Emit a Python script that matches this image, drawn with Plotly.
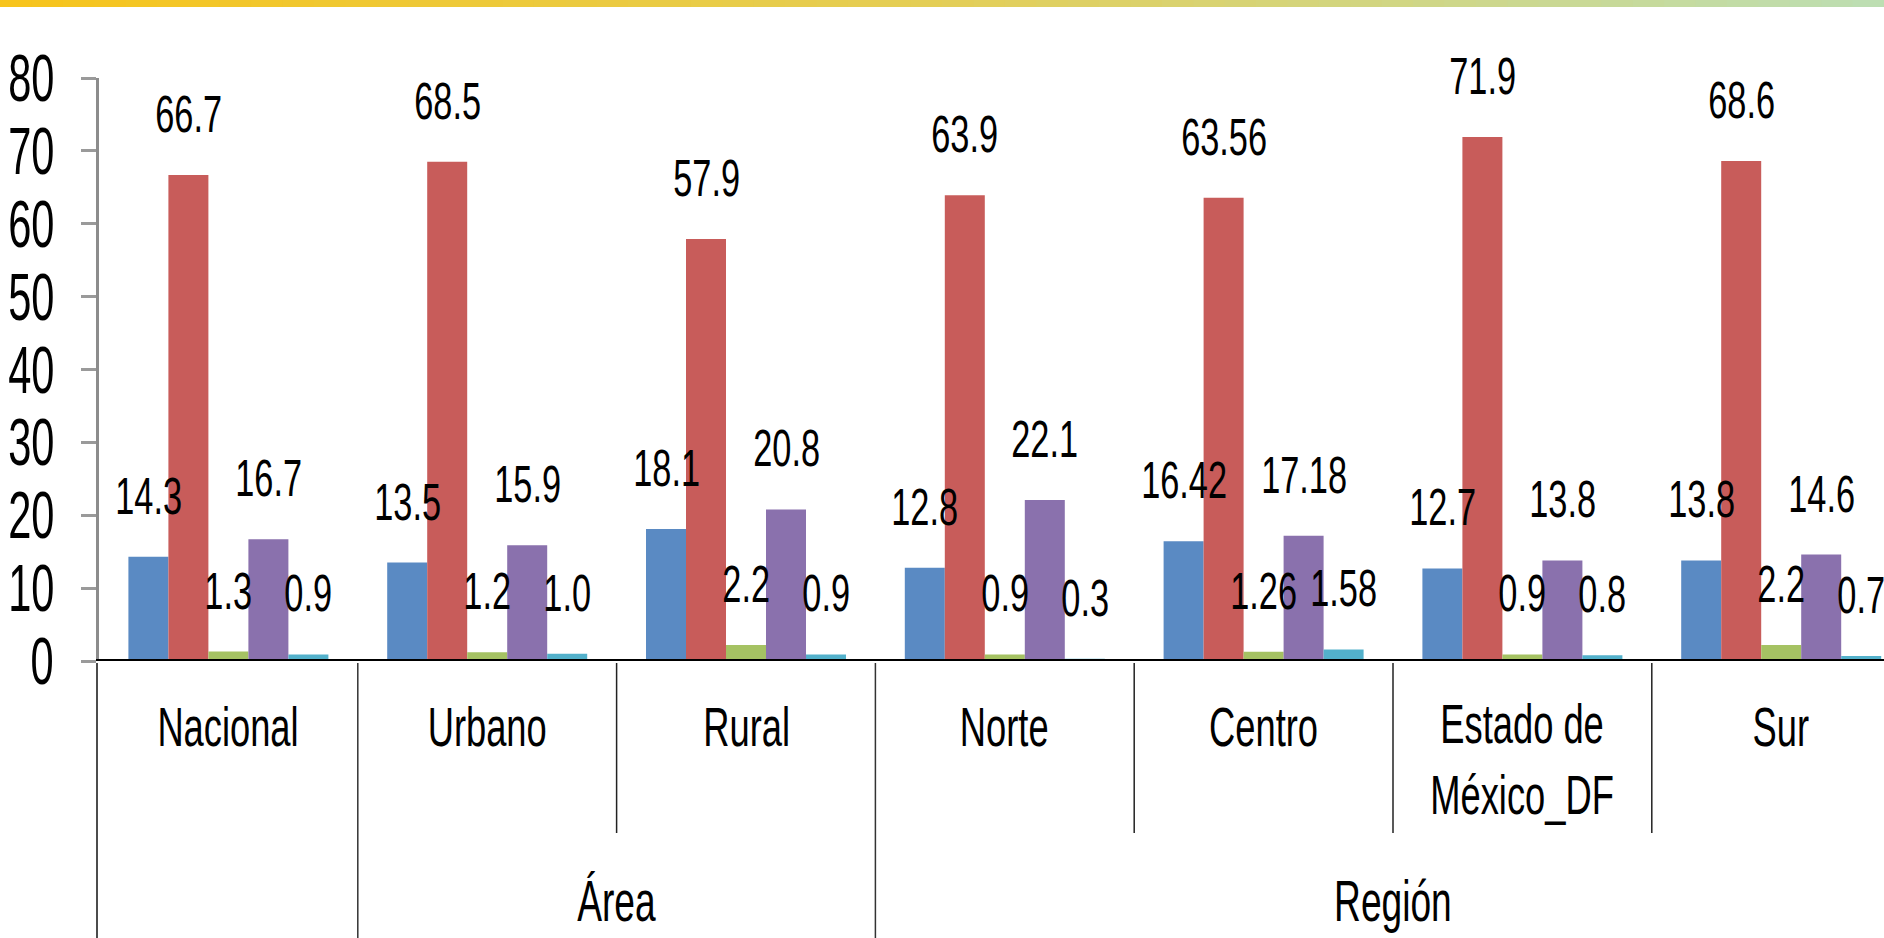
import plotly.graph_objects as go

# ---------------- data ----------------
categories = ["Nacional", "Urbano", "Rural", "Norte", "Centro", "Estado de México_DF", "Sur"]
category_labels = ["Nacional", "Urbano", "Rural", "Norte", "Centro", "Estado de<br>México_DF", "Sur"]
groups = [("Área", 1.5), ("Región", 4.5)]

serie_1 = [14.3, 13.5, 18.1, 12.8, 16.42, 12.7, 13.8]
serie_2 = [66.7, 68.5, 57.9, 63.9, 63.56, 71.9, 68.6]
serie_3 = [1.3, 1.2, 2.2, 0.9, 1.26, 0.9, 2.2]
serie_4 = [16.7, 15.9, 20.8, 22.1, 17.18, 13.8, 14.6]
serie_5 = [0.9, 1.0, 0.9, 0.3, 1.58, 0.8, 0.7]

series = [serie_1, serie_2, serie_3, serie_4, serie_5]
series_names = ["Serie 1", "Serie 2", "Serie 3", "Serie 4", "Serie 5"]
colors = ["#5A8AC3", "#C85C5A", "#A5C263", "#8A71AD", "#53B1CB"]

y_ticks = list(range(0, 81, 10))

# ---------------- layout constants ----------------
W, H = 1884, 938
L, T = 99, 78
plot_bottom = 661
B = H - plot_bottom
plot_h = plot_bottom - T
plot_w = W - L
cat_w = 258.8
bar_px = 40
x_max = -0.5 + plot_w / cat_w

FONT = "Liberation Sans, Arial, sans-serif"
SZ_DATA, SZ_TICK, SZ_CAT, SZ_GROUP = 52, 66, 55, 58


def fmt(v):
    return f"{v:.2f}" if round(v, 1) != v else f"{v:.1f}"


def py(px):
    """page pixel y -> paper y"""
    return (plot_bottom - px) / plot_h


def px_x(px):
    """page pixel x -> paper x"""
    return (px - L) / plot_w


fig = go.Figure()
for name, vals, c in zip(series_names, series, colors):
    fig.add_trace(go.Bar(x=categories, y=vals, name=name, marker_color=c,
                         marker_line_width=0, hoverinfo="x+y"))

annotations = []
n = len(series)
# data labels
for k, vals in enumerate(series):
    for cat, v in zip(categories, vals):
        annotations.append(dict(x=cat, y=v, xref="x", yref="y", text=fmt(v),
                                showarrow=False, xshift=(k - (n - 1) / 2) * bar_px,
                                yshift=61, yanchor="middle", xanchor="center", align="center",
                                font=dict(family=FONT, size=SZ_DATA, color="#000")))

# y tick labels
for t in y_ticks:
    annotations.append(dict(x=px_x(56), y=t, xref="paper", yref="y", text=str(t),
                            showarrow=False, xanchor="right", align="right", yanchor="middle",
                            font=dict(family=FONT, size=SZ_TICK, color="#000")))

# category labels
for cat, lab in zip(categories, category_labels):
    two = "<br>" in lab
    annotations.append(dict(x=cat, y=py(760 if two else 727), xref="x", yref="paper", text=lab,
                            showarrow=False, yanchor="middle", xanchor="center", align="center",
                            font=dict(family=FONT, size=SZ_CAT, color="#000")))

# group labels
for lab, xc in groups:
    annotations.append(dict(x=xc, y=py(900), xref="x", yref="paper", text=lab,
                            showarrow=False, yanchor="middle", xanchor="center", align="center",
                            font=dict(family=FONT, size=SZ_GROUP, color="#000")))

shapes = []
# top gradient band
stops = [(0.0, (247, 196, 27)), (0.5, (228, 206, 86)), (1.0, (188, 222, 180))]


def col_at(t):
    for (t0, c0), (t1, c1) in zip(stops[:-1], stops[1:]):
        if t <= t1:
            f = (t - t0) / (t1 - t0)
            return "rgb(%d,%d,%d)" % tuple(round(a + (b - a) * f) for a, b in zip(c0, c1))
    return "rgb(%d,%d,%d)" % stops[-1][1]


nseg = 60
x_left = px_x(0)
for i in range(nseg):
    a = x_left + (1 - x_left) * i / nseg
    b = x_left + (1 - x_left) * (i + 1) / nseg + 0.001
    shapes.append(dict(type="rect", xref="paper", yref="paper", x0=a, x1=b,
                       y0=py(7), y1=py(-2), line_width=0,
                       fillcolor=col_at((i + 0.5) / nseg), layer="above"))

# baseline
shapes.append(dict(type="line", xref="paper", yref="y", x0=px_x(96), x1=1, y0=0, y1=0,
                   line=dict(color="#000", width=4), layer="above"))
# left border continuing below axis
shapes.append(dict(type="line", xref="paper", yref="paper", x0=px_x(97), x1=px_x(97),
                   y0=py(663), y1=py(940), line=dict(color="#111", width=1.5)))
# category dividers
full_div = [0.5, 2.5]
short_div = [1.5, 3.5, 4.5, 5.5]
for xd in full_div:
    shapes.append(dict(type="line", xref="x", yref="paper", x0=xd, x1=xd,
                       y0=py(663), y1=py(940), line=dict(color="#333", width=1.5)))
for xd in short_div:
    shapes.append(dict(type="line", xref="x", yref="paper", x0=xd, x1=xd,
                       y0=py(663), y1=py(833), line=dict(color="#222", width=1.5)))

fig.update_layout(
    width=W, height=H,
    margin=dict(l=L, r=0, t=T, b=B, pad=0, autoexpand=False),
    barmode="group", bargap=(cat_w - n * bar_px) / cat_w, bargroupgap=0,
    showlegend=False,
    plot_bgcolor="white", paper_bgcolor="white",
    annotations=annotations, shapes=shapes,
    xaxis=dict(type="category", range=[-0.5, x_max], showticklabels=False,
               showgrid=False, zeroline=False, showline=False, ticks="", automargin=False),
    yaxis=dict(range=[0, 80], tickvals=y_ticks, showticklabels=False,
               showgrid=False, zeroline=False, automargin=False,
               showline=True, linecolor="#8c8c8c", linewidth=3,
               ticks="outside", ticklen=15, tickwidth=3, tickcolor="#9a9a9a"),
)

# the reference uses a strongly condensed typeface: squeeze text horizontally,
# and remove the default page margin so the figure fills the window exactly
squeeze_js = """
document.body.style.margin = '0';
document.body.style.overflow = 'hidden';
var gd = document.getElementById('{plot_id}');
var SX = {'%d': 0.66, '%d': 0.63, '%d': 0.66, '%d': 0.64};
function squeeze(){
  gd.querySelectorAll('text.annotation-text').forEach(function(t){
    var a = t.getAttribute('text-anchor');
    var fs = String(Math.round(parseFloat(t.style.fontSize || '0')));
    var s = SX[fs] || 0.64;
    t.style.transformBox = 'fill-box';
    t.style.transformOrigin = a === 'end' ? 'right center' : (a === 'start' ? 'left center' : 'center center');
    t.style.transform = 'scaleX(' + s + ')';
  });
}
squeeze();
gd.on('plotly_afterplot', squeeze);
""" % (SZ_DATA, SZ_TICK, SZ_CAT, SZ_GROUP)

fig.write_html("out.html", post_script=squeeze_js,
               config={"displayModeBar": False, "staticPlot": True})
